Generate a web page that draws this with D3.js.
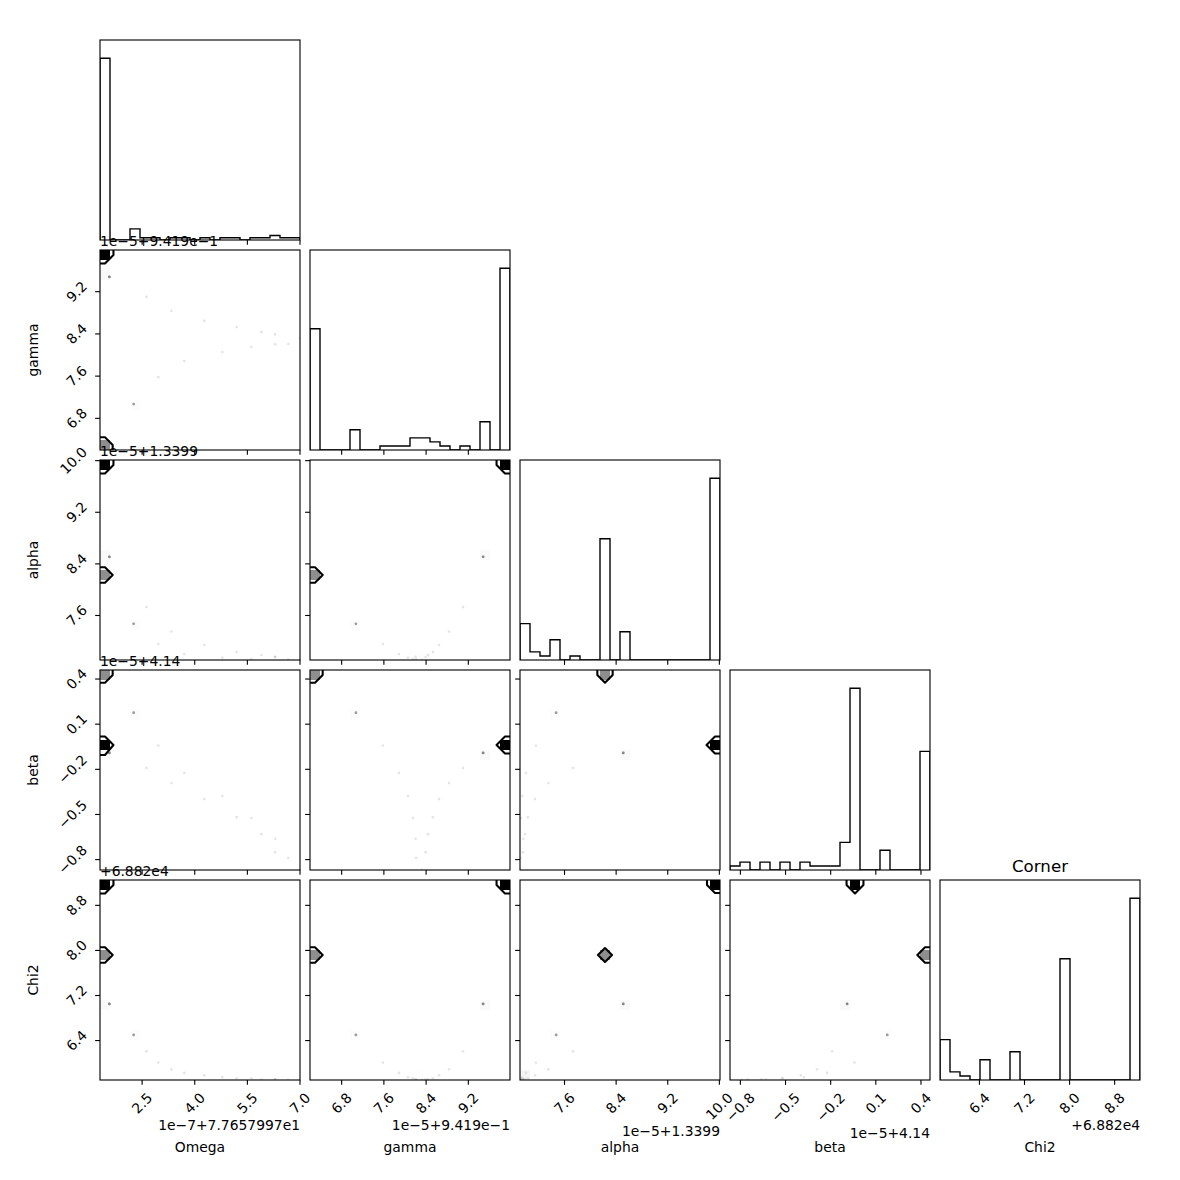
<!DOCTYPE html>
<html><head><meta charset="utf-8">
<script src="https://cdn.jsdelivr.net/npm/d3@7"></script>
<style>
body{margin:0;background:#fff}
svg text{font-family:"DejaVu Sans",sans-serif;fill:#000}
</style>
</head><body>
<svg id="fig" width="1180" height="1180" xmlns="http://www.w3.org/2000/svg"></svg>
<script>
// ---------------- data (values in axis units, offsets shown as text) -------------
const paramLabels = ["Omega", "gamma", "alpha", "beta", "Chi2"];
const offsetTexts = ["1e\u22127+7.7657997e1", "1e\u22125+9.419e\u22121", "1e\u22125+1.3399", "1e\u22125+4.14", "+6.882e4"];
// multiplicity of each distinct sample
const sampleWeights = [45, 30, 7, 5, 1, 1, 1, 1, 1, 1, 1, 1, 1, 1, 1, 1, 1];
const omega = [1.30, 1.30, 1.565, 2.26, 2.625, 2.96, 3.335, 3.70, 4.27, 4.785, 5.195, 5.61, 5.90, 6.295, 6.287, 6.666, 7.00];
const gamma = [9.99, 6.20, 9.48, 7.07, 9.10, 7.58, 8.835, 7.885, 8.645, 8.056, 8.53, 8.15, 8.436, 8.20, 8.39, 8.21, 8.32];
const alpha = [10.01, 8.23, 8.51, 7.47, 7.73, 7.157, 7.35, 7.002, 7.142, 6.945, 7.033, 6.925, 6.987, 6.96, 6.955, 6.919, 6.91];
const beta = [-0.036, 0.46, -0.091, 0.176, -0.191, -0.042, -0.291, -0.224, -0.398, -0.378, -0.518, -0.524, -0.631, -0.662, -0.751, -0.789, -0.869];
const chi2 = [9.25, 7.92, 7.05, 6.50, 6.21, 6.01, 5.89, 5.824, 5.783, 5.748, 5.73, 5.73, 5.712, 5.712, 5.712, 5.70, 5.70];
// tick values
const omegaTicks = [2.5, 4.0, 5.5, 7.0];
const gammaTicks = [6.8, 7.6, 8.4, 9.2];
const alphaTicks = [7.6, 8.4, 9.2, 10.0];
const betaTicks = [-0.8, -0.5, -0.2, 0.1, 0.4];
const chi2Ticks = [6.4, 7.2, 8.0, 8.8];
const titleText = "Corner";

// ---------------- layout ----------------
const params = [omega, gamma, alpha, beta, chi2];
const ticksAll = [omegaTicks, gammaTicks, alphaTicks, betaTicks, chi2Ticks];
const K = 5, NB = 20;
const L = 100, T = 40, P = 200, GAP = 10;
const FS = 13.89, TFS = 16.67;
const TICKLEN = 4.86, TICKPAD = 4.86, LW = 1.11;
const EPS = 1e-6;
const ranges = params.map(p => d3.extent(p));
const px = i => L + i * (P + GAP);
const py = j => T + j * (P + GAP);
const xScale = i => d3.scaleLinear().domain(ranges[i]).range([px(i), px(i) + P]);
const yScaleP = (j) => d3.scaleLinear().domain(ranges[j]).range([py(j) + P, py(j)]);
const fmt = v => d3.format(".1f")(v).replace("-", "\u2212");

const svg = d3.select("#fig");
const defs = svg.append("defs");
const gPanels = svg.append("g");
const gText = svg.append("g");

function binIdx(v, r) {
  let b = Math.floor((v - r[0]) / (r[1] - r[0]) * NB + 1e-9);
  if (b >= NB) b = NB - 1;
  if (b < 0) b = 0;
  return b;
}

function clipFor(id, x, y) {
  defs.append("clipPath").attr("id", id).append("rect")
    .attr("x", x).attr("y", y).attr("width", P).attr("height", P);
  return "url(#" + id + ")";
}

function drawFrame(g, x0, y0) {
  g.append("rect").attr("x", x0).attr("y", y0).attr("width", P).attr("height", P)
    .attr("fill", "none").attr("stroke", "#000").attr("stroke-width", LW);
}

function xTicks(g, i, y0) {
  const s = xScale(i);
  ticksAll[i].filter(v => v >= ranges[i][0] - 1e-9 && v <= ranges[i][1] + 1e-9).forEach(v => {
    g.append("line").attr("x1", s(v)).attr("x2", s(v)).attr("y1", y0 + P).attr("y2", y0 + P + TICKLEN)
      .attr("stroke", "#000").attr("stroke-width", LW);
  });
}
function yTicks(g, j, x0) {
  const s = yScaleP(j);
  ticksAll[j].filter(v => v >= ranges[j][0] - 1e-9 && v <= ranges[j][1] + 1e-9).forEach(v => {
    g.append("line").attr("y1", s(v)).attr("y2", s(v)).attr("x1", x0).attr("x2", x0 - TICKLEN)
      .attr("stroke", "#000").attr("stroke-width", LW);
  });
}

function rotatedLabel(str, cxFn, cyFn) {
  const t = gText.append("text").attr("font-size", FS).attr("text-anchor", "middle").text(str);
  const w = t.node().getComputedTextLength();
  const h = 1.164 * FS;
  const R = (w + h) / Math.SQRT2;
  const cx = cxFn(R), cy = cyFn(R);
  t.attr("x", cx).attr("y", cy + 0.346 * FS).attr("transform", `rotate(-45,${cx},${cy})`);
  return R;
}

// ---------------- diagonal histograms ----------------
for (let i = 0; i < K; i++) {
  const x0 = px(i), y0 = py(i);
  const g = gPanels.append("g");
  const n = new Array(NB).fill(0);
  params[i].forEach((v, k) => { n[binIdx(v, ranges[i])] += sampleWeights[k]; });
  const sx = xScale(i);
  const sy = d3.scaleLinear().domain([0, 1.1 * d3.max(n)]).range([y0 + P, y0]);
  const edges = d3.range(NB + 1).map(b => ranges[i][0] + b * (ranges[i][1] - ranges[i][0]) / NB);
  const pts = [[edges[0], 0]];
  for (let b = 0; b < NB; b++) { pts.push([edges[b], n[b]]); pts.push([edges[b + 1], n[b]]); }
  pts.push([edges[NB], 0]);
  g.append("rect").attr("x", x0).attr("y", y0).attr("width", P).attr("height", P).attr("fill", "#fff");
  g.append("path").attr("clip-path", clipFor("cd" + i, x0, y0))
    .attr("d", d3.line().x(d => sx(d[0])).y(d => sy(d[1]))(pts))
    .attr("fill", "none").attr("stroke", "#000").attr("stroke-width", 1.39).attr("stroke-linejoin", "miter");
  drawFrame(g, x0, y0);
  xTicks(g, i, y0);
}

// ---------------- 2D panels ----------------
const levelFracs = [0.5, 1.0, 1.5, 2.0].map(s => 1 - Math.exp(-0.5 * s * s));
for (let j = 1; j < K; j++) {
  for (let i = 0; i < j; i++) {
    const x0 = px(i), y0 = py(j);
    const g = gPanels.append("g");
    g.append("rect").attr("x", x0).attr("y", y0).attr("width", P).attr("height", P).attr("fill", "#fff");
    const inner = g.append("g").attr("clip-path", clipFor("c" + i + "_" + j, x0, y0));
    const sx = xScale(i), sy = yScaleP(j);
    const rx = ranges[i], ry = ranges[j];
    const dx = (rx[1] - rx[0]) / NB, dy = (ry[1] - ry[0]) / NB;
    const xv = params[i], yv = params[j];

    // histogram
    const H = d3.range(NB).map(() => new Array(NB).fill(0));
    xv.forEach((x, k) => { H[binIdx(x, rx)][binIdx(yv[k], ry)] += sampleWeights[k]; });
    const flat = H.flat().slice().sort((a, b) => b - a);
    const total = d3.sum(flat);
    let c = 0;
    const sm = flat.map(v => (c += v) / total);
    let V = levelFracs.map(v0 => {
      let idx = -1;
      for (let q = 0; q < sm.length; q++) if (sm[q] <= v0) idx = q;
      return idx >= 0 ? flat[idx] : flat[0];
    });
    V.sort((a, b) => a - b);
    for (let guard = 0; guard < 200; guard++) {
      let m = -1;
      for (let q = 0; q < V.length - 1; q++) if (V[q + 1] - V[q] === 0) { m = q; break; }
      if (m < 0) break;
      V[m] *= 1 - 1e-4;
    }
    V.sort((a, b) => a - b);
    const Hmax = flat[0], Hmin = flat[flat.length - 1];

    // data points (one circle per sample)
    xv.forEach((x, k) => {
      for (let r = 0; r < sampleWeights[k]; r++) {
        inner.append("circle").attr("cx", sx(x)).attr("cy", sy(yv[k])).attr("r", 1.39)
          .attr("fill", "#000").attr("fill-opacity", 0.1);
      }
    });

    // padded grid for contours
    const n2 = NB + 4;
    const H2 = d3.range(n2).map(() => new Array(n2).fill(Hmin));
    for (let a = 0; a < NB; a++) for (let b = 0; b < NB; b++) H2[a + 2][b + 2] = H[a][b];
    for (let a = 0; a < NB; a++) {
      H2[a + 2][1] = H[a][0]; H2[a + 2][n2 - 2] = H[a][NB - 1];
      H2[1][a + 2] = H[0][a]; H2[n2 - 2][a + 2] = H[NB - 1][a];
    }
    H2[1][1] = H[0][0]; H2[1][n2 - 2] = H[0][NB - 1];
    H2[n2 - 2][1] = H[NB - 1][0]; H2[n2 - 2][n2 - 2] = H[NB - 1][NB - 1];
    const values = new Array(n2 * n2);
    for (let a = 0; a < n2; a++) for (let b = 0; b < n2; b++) values[b * n2 + a] = H2[a][b];
    const gen = d3.contours().size([n2, n2]);
    const toPath = (mp) => mp.coordinates.map(poly => poly.map(ring =>
      "M" + ring.map(([cx, cy]) => [sx(rx[0] + (cx - 2) * dx), sy(ry[0] + (cy - 2) * dy)].join(",")).join("L") + "Z"
    ).join("")).join("");

    // white base fill
    inner.append("path").attr("d", toPath(gen.contour(values, d3.min(V) + EPS)))
      .attr("fill", "#fff").attr("fill-rule", "evenodd");

    // density map (pcolor)
    for (let a = 0; a < NB; a++) for (let b = 0; b < NB; b++) {
      const h = H[a][b];
      if (h <= 0) continue;
      const t = (Hmax - h) / Hmax;
      const gv = Math.round(t * 255);
      const xa = sx(rx[0] + a * dx), xb = sx(rx[0] + (a + 1) * dx);
      const ya = sy(ry[0] + b * dy), yb = sy(ry[0] + (b + 1) * dy);
      inner.append("rect").attr("x", xa).attr("y", yb).attr("width", xb - xa).attr("height", ya - yb)
        .attr("fill", `rgb(${gv},${gv},${gv})`).attr("fill-opacity", 1 - t)
        .attr("shape-rendering", "crispEdges");
    }

    // contour lines (strictly above the level, as matplotlib does)
    V.filter(v => v < Hmax).forEach(v => {
      inner.append("path").attr("d", toPath(gen.contour(values, v + EPS)))
        .attr("fill", "none").attr("stroke", "#000").attr("stroke-width", 2.08).attr("stroke-linejoin", "round");
    });

    drawFrame(g, x0, y0);
    xTicks(g, i, y0);
    yTicks(g, j, x0);
  }
}

// ---------------- tick labels, offsets, axis labels ----------------
const bottom = py(K - 1) + P;
for (let i = 0; i < K; i++) {
  const s = xScale(i);
  let maxR = 0;
  ticksAll[i].filter(v => v >= ranges[i][0] - 1e-9 && v <= ranges[i][1] + 1e-9).forEach(v => {
    const R = rotatedLabel(fmt(v), R => s(v), R => bottom + TICKLEN + TICKPAD + R / 2);
    maxR = Math.max(maxR, (R * Math.SQRT2 - 0.164 * FS) / Math.SQRT2);
  });
  // x offset text (right aligned, below tick labels)
  const top = bottom + TICKLEN + TICKPAD + maxR + 4.17;
  gText.append("text").attr("font-size", FS).attr("text-anchor", "end")
    .attr("x", px(i) + P).attr("y", top + 0.76 * FS).text(offsetTexts[i]);
  // x axis label
  gText.append("text").attr("font-size", FS).attr("text-anchor", "middle")
    .attr("x", px(i) + P / 2).attr("y", bottom + 0.3 * P + 0.85 * FS).text(paramLabels[i]);
}
for (let j = 1; j < K; j++) {
  const s = yScaleP(j);
  ticksAll[j].filter(v => v >= ranges[j][0] - 1e-9 && v <= ranges[j][1] + 1e-9).forEach(v => {
    rotatedLabel(fmt(v), R => L - TICKLEN - TICKPAD - R / 2, R => s(v));
  });
  // y offset text
  gText.append("text").attr("font-size", FS).attr("text-anchor", "start")
    .attr("x", L).attr("y", py(j) - 4.17).text(offsetTexts[j]);
  // y label
  const cy = py(j) + P / 2, cx = L - 0.3 * P - 2.5;
  gText.append("text").attr("font-size", FS).attr("text-anchor", "middle")
    .attr("x", cx).attr("y", cy).attr("transform", `rotate(-90,${cx},${cy})`).text(paramLabels[j]);
}
// title
gText.append("text").attr("font-size", TFS).attr("text-anchor", "middle")
  .attr("x", px(K - 1) + P / 2).attr("y", py(K - 1) - 8.0).text(titleText);
</script>
</body></html>
